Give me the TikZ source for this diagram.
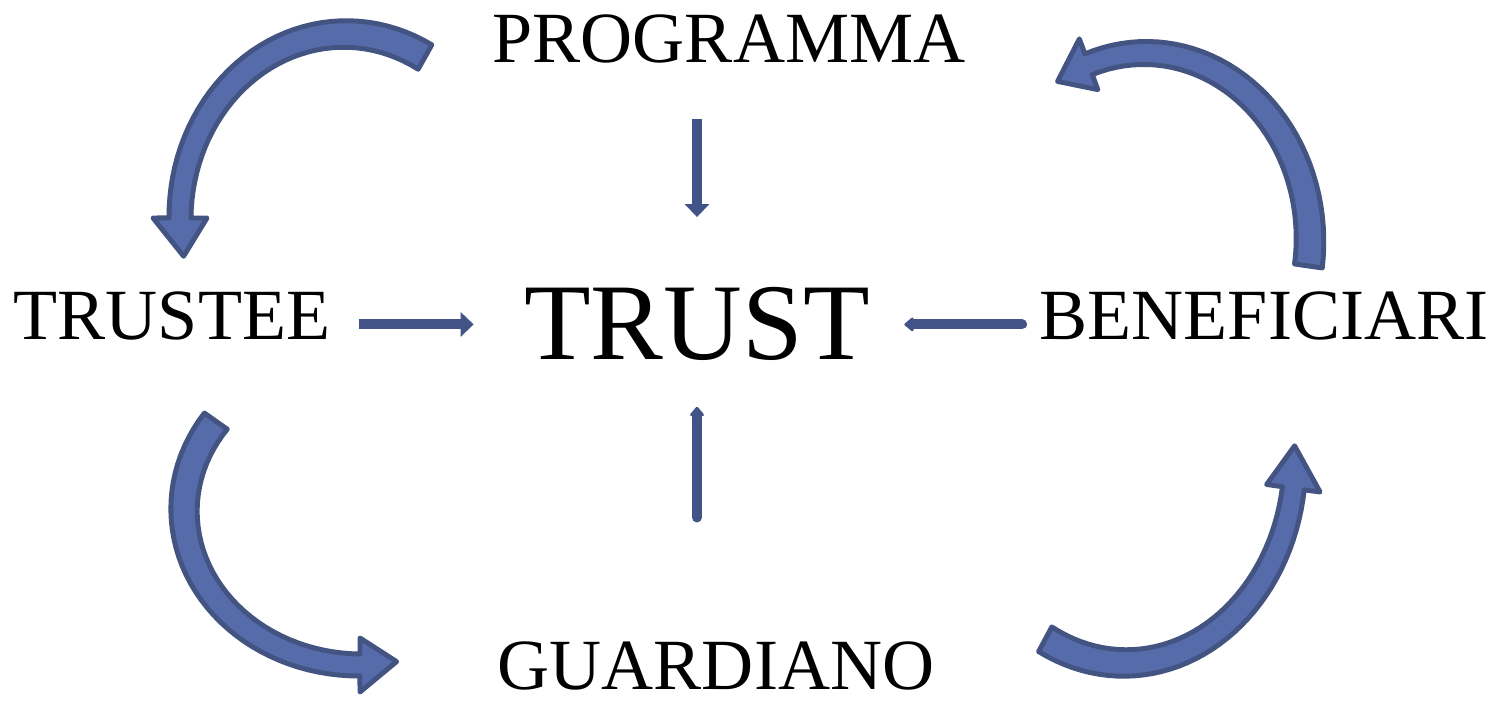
\documentclass[tikz,border=0pt]{standalone}
\usepackage{fontspec}
\setmainfont{Liberation Serif}
\usetikzlibrary{arrows.meta}

\definecolor{bendline}{RGB}{67,83,130}
\definecolor{bendfill}{RGB}{86,108,170}
\definecolor{barblue}{RGB}{66,84,135}

% curved block arrow: centre x, centre y, x radius, y radius, tail / neck / tip angle
\newcommand{\bendarrow}[7]{%
  \filldraw[blockarc]
    plot[variable=\t, domain=0:1, samples=40]
      ({#1+(#3+14-3*\t)*cos(#5+\t*((#6)-(#5)))}, {#2+(#4+14-3*\t)*sin(#5+\t*((#6)-(#5)))})
    -- ({#1+(#3+27)*cos(#6)}, {#2+(#4+27)*sin(#6)})
    -- ({#1+#3*cos(#7)}, {#2+#4*sin(#7)})
    -- ({#1+(#3-27)*cos(#6)}, {#2+(#4-27)*sin(#6)})
    -- plot[variable=\t, domain=0:1, samples=40]
      ({#1+(#3-11-3*\t)*cos(#6+\t*((#5)-(#6)))}, {#2+(#4-11-3*\t)*sin(#6+\t*((#5)-(#6)))})
    -- cycle;}

\begin{document}
\begin{tikzpicture}[
  x=0.01cm, y=-0.01cm,
  lbl/.style={inner sep=0pt, anchor=base, font=\fontsize{20.5}{24}\selectfont},
  biglbl/.style={inner sep=0pt, anchor=base, font=\fontsize{31}{36}\selectfont},
  bar/.style={draw=barblue, line width=0.1cm, -{Triangle[width=0.24cm,length=0.13cm]}},
  thinbar/.style={draw=barblue, line width=0.1cm, line cap=round,
    -{Triangle[round,width=0.16cm,length=0.1cm]}},
  blockarc/.style={draw=bendline, fill=bendfill, line width=1.4pt, line join=round}
]
\useasboundingbox[fill=white] (0,0) rectangle (1497,701);

% Labels
\node[biglbl] (trust)   at (697,360)  {TRUST};
\node[lbl]    (prog)    at (729,63)   {PROGRAMMA};
\node[lbl]    (trustee) at (172,340)  {TRUSTEE};
\node[lbl]    (benef)   at (1264,340) {BENEFICIARI};
\node[lbl]    (guard)   at (716,690)  {GUARDIANO};

% Straight arrows into the trust
\draw[bar, shorten <=0.55cm, shorten >=0.70cm] (prog.south -| trust) -- (trust.north);
\draw[bar, shorten <=0.28cm, shorten >=0.50cm] (trustee.east |- trust) -- (trust.west);
\draw[thinbar, shorten <=0.17cm, shorten >=0.34cm] (benef.west |- trust) -- (trust.east);
\draw[thinbar, shorten <=1.24cm, shorten >=0.45cm] (guard.north -| trust) -- (trust.south);

% Curved arrows round the cycle
\bendarrow{345}{218}{165}{184}{-61}{-180}{-192}
\bendarrow{360}{510}{176}{155}{215}{90}{78}
\bendarrow{1125}{460}{170}{203}{118}{8}{-4}
\bendarrow{1145}{240}{165}{187}{8}{-110}{-122}

\end{tikzpicture}
\end{document}
